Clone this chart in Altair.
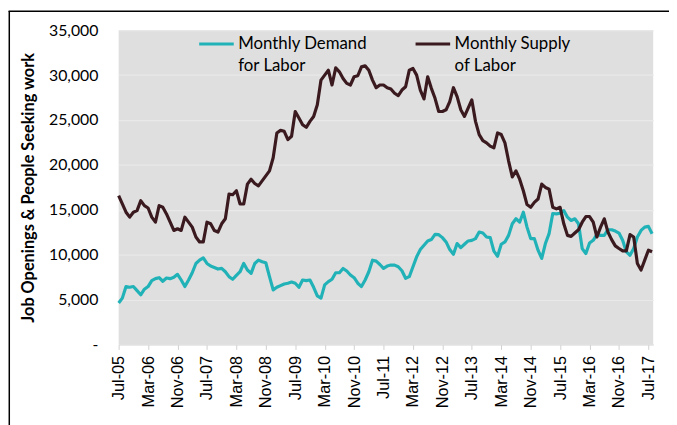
import altair as alt
import pandas as pd

# Month index 0 = Jul-05 ... 145 = Aug-17
tick_labels = ["Jul-05", "Mar-06", "Nov-06", "Jul-07", "Mar-08", "Nov-08", "Jul-09",
               "Mar-10", "Nov-10", "Jul-11", "Mar-12", "Nov-12", "Jul-13", "Mar-14",
               "Nov-14", "Jul-15", "Mar-16", "Nov-16", "Jul-17"]

demand = [
    4610, 5160, 6450, 6370, 6450, 6000, 5530, 6150, 6450, 7110,
    7330, 7440, 7040, 7400, 7330, 7480, 7810, 7180, 6450, 7180,
    7990, 9020, 9390, 9650, 9020, 8730, 8580, 8400, 8470, 8100,
    7550, 7260, 7700, 8100, 9020, 8290, 7920, 9020, 9390, 9210,
    9100, 7550, 6080, 6370, 6560, 6740, 6820, 6960, 6820, 6370,
    7180, 7110, 7180, 6370, 5420, 5160, 6630, 7000, 7260, 7990,
    7990, 8470, 8180, 7740, 7440, 6820, 6450, 7180, 8100, 9390,
    9280, 8910, 8470, 8730, 8840, 8840, 8660, 8210, 7370, 7550,
    8660, 9760, 10570, 11050, 11530, 11680, 12260, 12230, 11900, 11420,
    10570, 10050, 11240, 10790, 11160, 11530, 11600, 11790, 12520, 12410,
    11970, 11900, 10390, 9830, 11160, 11420, 12150, 13440, 14000, 13620,
    14730, 13070, 11790, 11790, 10500, 9580, 11240, 12340, 14590, 14550,
    14620, 14910, 14180, 13810, 14000, 13440, 10680, 10130, 11310, 11600,
    12260, 12150, 12150, 12780, 12780, 12630, 12410, 11600, 10320, 9940,
    10680, 11970, 12700, 13070, 13150, 12340,
]

supply = [
    16570, 15650, 14730, 14180, 14730, 14910, 16010, 15460, 15200, 14180,
    13620, 15460, 15280, 14540, 13620, 12700, 12890, 12700, 14180, 13620,
    13070, 11970, 11420, 11420, 13620, 13440, 12700, 12520, 13440, 14000,
    16750, 16680, 17120, 15650, 15650, 17860, 18410, 17930, 17670, 18220,
    18780, 19330, 20800, 23560, 23850, 23740, 22820, 23190, 25950, 25220,
    24480, 24190, 24850, 25400, 26690, 29450, 30000, 30550, 28900, 30810,
    30370, 29630, 29080, 28900, 29820, 29930, 30920, 31030, 30550, 29450,
    28600, 28900, 28900, 28600, 28450, 27980, 27720, 28340, 28710, 30550,
    30740, 30000, 28340, 27350, 29820, 28530, 27420, 25950, 25950, 26140,
    27060, 28600, 27610, 26140, 25400, 26320, 27240, 24850, 23380, 22710,
    22460, 22090, 21900, 23560, 23380, 22460, 20430, 18670, 19330, 18410,
    17120, 15580, 15280, 15830, 16200, 17860, 17490, 17300, 15280, 15100,
    15280, 13440, 12150, 12040, 12410, 12780, 13620, 14250, 14250, 13620,
    11970, 13070, 14000, 12520, 11680, 10980, 10690, 10430, 10430, 12230,
    11970, 9020, 8290, 9390, 10500, 10320,
]

series_names = ["Monthly Demand|for Labor", "Monthly Supply|of Labor"]
series_colors = ["#21b2b8", "#3a1a1f"]

df = pd.DataFrame({"month": list(range(len(demand))),
                   series_names[0]: demand,
                   series_names[1]: supply})
long = df.melt(id_vars="month", var_name="series", value_name="value")

label_expr = "[" + ",".join("'" + t + "'" for t in tick_labels) + "][round(datum.value / 8)]"

lines = alt.Chart(long).mark_line(strokeWidth=3.2, strokeJoin="round").encode(
    x=alt.X("month:Q",
            scale=alt.Scale(domain=[0, 145.3], nice=False, zero=False),
            axis=alt.Axis(values=list(range(0, 145, 8)), labelExpr=label_expr,
                          labelAngle=-90, labelFont="Liberation Sans", labelFontSize=16.5,
                          labelColor="#000000", labelPadding=6, tickSize=5,
                          tickColor="#d0d0d0", domainColor="#d9d9d9", grid=False,
                          title=None)),
    y=alt.Y("value:Q",
            scale=alt.Scale(domain=[0, 35000], nice=False),
            axis=alt.Axis(values=list(range(0, 35001, 5000)),
                          labelExpr="datum.value == 0 ? '-\u00a0\u00a0' : format(datum.value, ',')",
                          labelFont="Lato", labelFontSize=16, labelColor="#000000",
                          ticks=False, domain=False, labelPadding=21,
                          gridColor="#e9e9e9", gridWidth=1.2,
                          title="Job Openings & People Seeking work",
                          titleFont="Lato", titleFontSize=16.5, titleFontWeight="bold",
                          titleColor="#000000", titleX=-83, titleY=159,
                          titleBaseline="bottom")),
    color=alt.Color("series:N",
                    scale=alt.Scale(domain=series_names, range=series_colors),
                    legend=alt.Legend(orient="none", legendX=80, legendY=-5,
                                      direction="horizontal", title=None,
                                      symbolType="stroke", symbolSize=1225,
                                      symbolStrokeWidth=3, labelFont="Lato",
                                      labelFontSize=17, labelColor="#000000",
                                      labelOffset=3, columnPadding=42, labelLimit=0,
                                      labelBaseline="middle", padding=0,
                                      labelExpr="split(datum.label, '|')")),
)

frame_v = alt.Chart(alt.Data(values=[{}])).mark_rule(color="#000000", strokeWidth=1.5).encode(
    x=alt.value(-110.7), y=alt.value(-19.5), y2=alt.value(400))
frame_h = alt.Chart(alt.Data(values=[{}])).mark_rule(color="#000000", strokeWidth=1.5).encode(
    x=alt.value(-111.4), x2=alt.value(560), y=alt.value(-19.2))

chart = alt.layer(lines, frame_v, frame_h).properties(
    width=541, height=318,
    autosize=alt.AutoSizeParams(type="none"),
    padding={"left": 112, "top": 20, "right": 16, "bottom": 79},
).configure(
    style={"guide-label": {"lineHeight": 22}}
).configure_view(fill="#dfdfdf", strokeWidth=0)

chart.save("out.html", embed_options={"renderer": "svg", "actions": False})
